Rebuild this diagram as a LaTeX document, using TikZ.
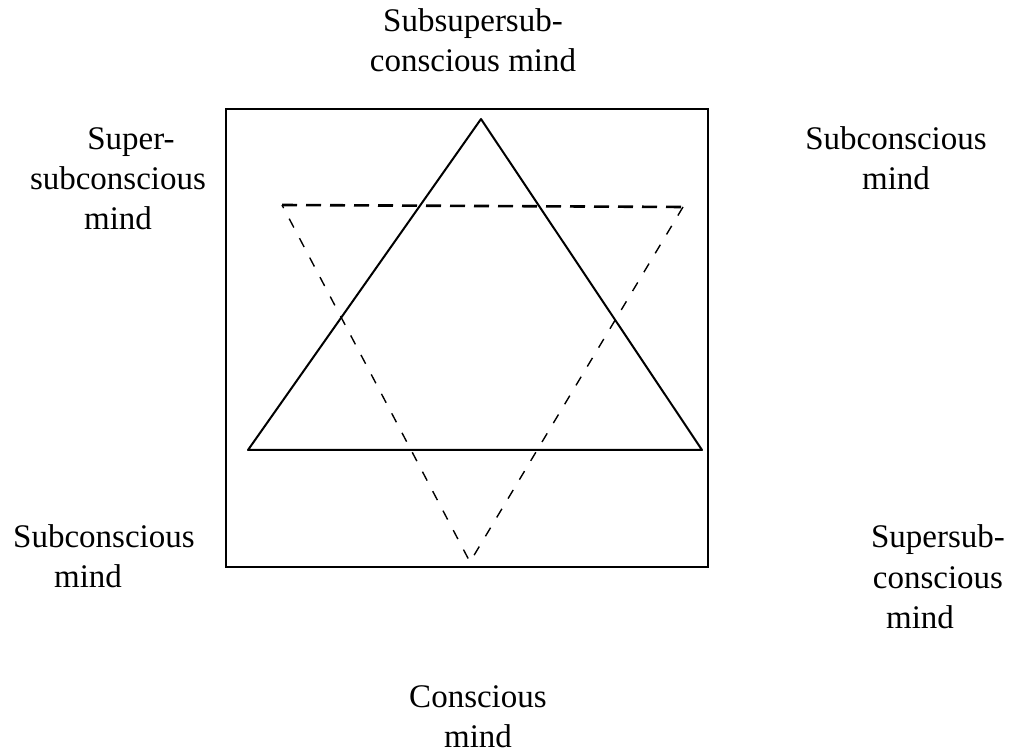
\documentclass[tikz,border=0pt]{standalone}
\usepackage{fontspec}
\setmainfont{Liberation Serif}
\begin{document}
\begin{tikzpicture}
	[x=0.5pt,y=-0.5pt,
	mind/.style={align=center,inner sep=0pt,anchor=base,font=\fontsize{16.5}{20}\selectfont},
	frame/.style={line width=1.3pt},
	star/.style={line width=1pt,line join=round},
	dashtop/.style={line width=1.3pt,dash pattern=on 7.5pt off 4.5pt},
	dashside/.style={line width=0.7pt,dash pattern=on 5pt off 6pt}
	]
	\useasboundingbox (0,0) rectangle (1018,753);
	% frame
	\coordinate (box nw) at (226,109);
	\coordinate (box se) at (708,567);
	\draw[frame] (box nw) rectangle (box se);
	% solid triangle
	\coordinate (up top) at (481,119);
	\coordinate (up left) at (248,450);
	\coordinate (up right) at (702,450);
	\draw[star] (up top) -- (up right) -- (up left) -- cycle;
	% dashed triangle
	\coordinate (down left) at (282,205);
	\coordinate (down right) at (683,207);
	\coordinate (down bottom) at (470,562);
	\draw[dashtop] (down left) -- (down right);
	\draw[dashside] (down right) -- (down bottom) -- (down left);
	% labels (anchored at the last line)
	\node[mind] (subsupersub) at (473,72) {Subsupersub-\\conscious mind};
	\node[mind] (supersub left) at (118,230) {\hspace*{13pt}Super-\\subconscious\\mind};
	\node[mind] (sub right) at (896,190) {Subconscious\\mind};
	\node[mind] (sub left) at (104,588) {Subconscious\\mind\hspace*{16pt}};
	\node[mind] (supersub right) at (938,628) {Supersub-\\conscious\\mind\hspace*{18pt}};
	\node[mind] (conscious) at (478,747) {Conscious\\mind};
\end{tikzpicture}
\end{document}
